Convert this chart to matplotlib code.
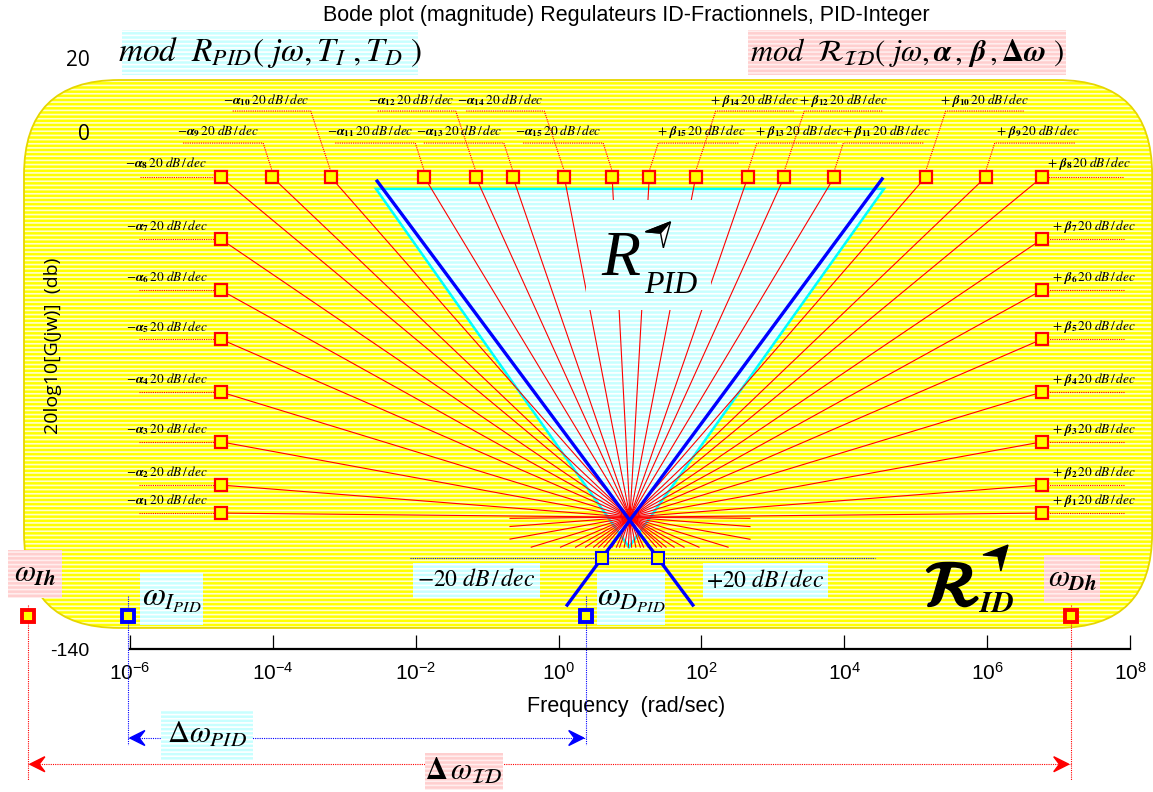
import numpy as np
import matplotlib.pyplot as plt
import matplotlib.patheffects as pe
from matplotlib.patches import FancyBboxPatch, Polygon, Rectangle
from matplotlib.ticker import NullLocator
from matplotlib.transforms import IdentityTransform

plt.rcParams["font.family"] = ["Liberation Sans", "DejaVu Sans"]
plt.rcParams["mathtext.fontset"] = "stix"
plt.rcParams["hatch.linewidth"] = 1.2

RED, BLUE, CYAN, YELLOW = "#ff0000", "#0000ff", "#00ffff", "#ffff00"
CYAN_FILL, PINK_FILL = "#c8ffff", "#ffcfcf"

# ---- values: log10(omega) and magnitude (dB) -------------------------------
cross_lw, cross_mag = 1.0, -104.3
alpha_top_lw = [-4.73, -4.01, -3.19, -1.88, -1.16, -0.64, 0.08, 0.75]   # alpha_8 .. alpha_15
beta_top_lw = [6.77, 5.98, 5.14, 3.86, 3.16, 2.65, 1.92, 1.27]          # beta_8 .. beta_15
top_mag = -12.2
side_mag = [-103.2, -95.6, -83.9, -70.4, -56.1, -42.8, -29.0]          # index 1 .. 7
alpha_side_lw, beta_side_lw = -4.73, 6.77

pid_region_lw = [-2.556, 4.556, 0.986]
pid_region_mag = [-15.4, -15.4, -112.4]
pid_fall_lw, pid_fall_mag = [-2.54, 1.88], [-13.3, -128.1]
pid_rise_lw, pid_rise_mag = [4.53, 0.12], [-12.7, -128.1]
corner_mag = -115.4
corner_guide_lw = [-2.08, 4.43]

band_mag = -131.1
w_I_pid, w_D_pid = -6.03, 0.38
w_Ih, w_Dh = -7.43, 7.17
span_pid_mag, span_id_mag = -164.1, -171.2

xticks = [1e-6, 1e-4, 1e-2, 1e0, 1e2, 1e4, 1e6, 1e8]
yticks, ytick_labels = [20, 0, -140], ["20", "0", "-140"]

# ---- figure ------------------------------------------------------------------
fig = plt.figure(figsize=(11.53, 7.92), dpi=100)
ax = fig.add_axes([130 / 1153, 143 / 792, 1000 / 1153, 649 / 792])
ax.set_xscale("log")
ax.set_xlim(1e-6, 1e8)
ax.set_ylim(-140, 35.74)
ax.patch.set_alpha(0)
for s in ["left", "top", "right"]:
    ax.spines[s].set_visible(False)
ax.spines["bottom"].set_linewidth(1.6)
ax.set_xticks(xticks)
ax.xaxis.set_minor_locator(NullLocator())
ax.tick_params(axis="x", direction="in", length=10, width=0.9, labelsize=15, pad=9)
ax.set_yticks(yticks, labels=ytick_labels)
ax.tick_params(axis="y", length=0, pad=29, labelsize=14)
for t in ax.get_yticklabels()[:2]:
    t.set_fontfamily("Open Sans")
    t.set_fontsize(15)
ax.set_xlabel("Frequency  (rad/sec)", fontsize=15.5, va="center")
ax.xaxis.set_label_coords(0.496, -0.088)
ax.set_ylabel("20log10[G(jw)]  (db)", fontsize=14, family="Open Sans", va="center")
ax.yaxis.set_label_coords(-0.077, 0.467)
fig.suptitle("Bode plot (magnitude) Regulateurs ID-Fractionnels, PID-Integer",
             x=626 / 1153, y=1 - 15 / 792, va="center", fontsize=15.5)

ID = IdentityTransform()


def disp(lw, mag):
    return ax.transData.transform((10.0 ** lw, mag))


def back(px):
    return ax.transData.inverted().transform(px)


def card(lw, mag, w, h, face, stripe):
    cx, cy = disp(lw, mag)
    ax.add_patch(Rectangle((cx - w / 2, cy - h / 2), w, h, transform=ID, fc=face,
                           ec=stripe, lw=0, hatch="----", clip_on=False, zorder=3))


def arrowhead(px, angle, size, face, edge=None, half=False):
    shape = np.array([[0, 0], [-1, 0.5], [-0.62, 0], [-1, -0.5]]) * size
    a = np.deg2rad(angle)
    rot = np.array([[np.cos(a), -np.sin(a)], [np.sin(a), np.cos(a)]])
    pts = np.asarray(px) + shape @ rot.T
    ax.add_patch(Polygon(pts, transform=ID, fc=face, ec=edge or face, lw=1.0,
                         clip_on=False, zorder=4))
    if half:
        ax.add_patch(Polygon(pts[[0, 1, 2]], transform=ID, fc="black", ec="black",
                             lw=1.0, clip_on=False, zorder=4.1))


# yellow panel
x0, y0 = disp(-7.484, -134.3)
x1, y1 = disp(8.31, 14.08)
for kw in (dict(fc=YELLOW, ec="#ffffcc", lw=0, hatch="----"),
           dict(fill=False, ec="#e6d600", lw=1.3)):
    ax.add_patch(FancyBboxPatch((x0, y0), x1 - x0, y1 - y0,
                                boxstyle="round,pad=0,rounding_size=95",
                                transform=ID, clip_on=False, zorder=0.5, **kw))

# PID region (cyan triangle)
tri = list(zip(10.0 ** np.array(pid_region_lw), pid_region_mag))
ax.add_patch(Polygon(tri, fc=CYAN_FILL, ec="white", lw=0, hatch="----", zorder=1))
ax.add_patch(Polygon(tri, fill=False, ec=CYAN, lw=1.8, zorder=1.2))

# red fan through the crossing point
alpha_pts = [(alpha_side_lw, m) for m in side_mag] + [(v, top_mag) for v in alpha_top_lw]
beta_pts = [(beta_side_lw, m) for m in side_mag] + [(v, top_mag) for v in beta_top_lw]
cx, cy = disp(cross_lw, cross_mag)
for lw, m in alpha_pts + beta_pts:
    sx, sy = disp(lw, m)
    dx, dy = cx - sx, cy - sy
    t = min(30 / abs(dy) if dy else np.inf, 120 / abs(dx) if dx else np.inf)
    ew, em = back((cx + t * dx, cy + t * dy))
    ax.plot([10.0 ** lw, ew], [m, em], color=RED, lw=0.8, zorder=2)

# labels of the fan squares: (text dy, line dy, line outer, line inner, text dx alpha, text dx beta)
ROWS = {0: (12.5, 0, 82, 5, 54, 52), 1: (77, 66, 98, 20, 64, 59),
        2: (46, 34, 89, 9, 54, 52), 3: (14, 0, 81, 5, 55, 47)}


def tag(lw, m, k, sign, row):
    text_dy, line_dy, outer, inner, dxa, dxb = ROWS[row]
    sx, sy = disp(lw, m)
    pts = [(sx + sign * outer, sy + line_dy), (sx + sign * inner, sy + line_dy)]
    if line_dy > 6:
        pts.append((sx, sy + 6))
    dp = np.array([back(p) for p in pts])
    ax.plot(dp[:, 0], dp[:, 1], color=RED, lw=0.8, ls=(0, (1, 1)), zorder=2, clip_on=False)
    if sign < 0:
        s = rf"$-\boldsymbol{{\alpha}}_{{\mathbf{{{k}}}}}\,\mathit{{20\ dB\,/\,dec}}$"
        text_dx = -dxa
    else:
        s = rf"$+\ \boldsymbol{{\beta}}_{{\mathbf{{{k}}}}}\,\mathit{{20\ dB\,/\,dec}}$"
        text_dx = dxb
    ax.annotate(s, (10.0 ** lw, m), xytext=(text_dx, text_dy),
                textcoords="offset pixels", ha="center", va="center", fontsize=9.5, zorder=3)


for i, (lw, m) in enumerate(alpha_pts):
    k = i + 1
    row = 0 if k < 8 else (3 if k == 8 else (1 if k % 2 == 0 else 2))
    tag(lw, m, k, -1, row)
for i, (lw, m) in enumerate(beta_pts):
    k = i + 1
    row = 0 if k < 8 else (3 if k == 8 else (1 if k % 2 == 0 else 2))
    tag(lw, m, k, 1, row)

# PID asymptotes
ax.plot(10.0 ** np.array(pid_fall_lw), pid_fall_mag, color=BLUE, lw=2.4, zorder=2.6)
ax.plot(10.0 ** np.array(pid_rise_lw), pid_rise_mag, color=BLUE, lw=2.4, zorder=2.6)
ax.plot(10.0 ** np.array(corner_guide_lw), [corner_mag] * 2, color=BLUE, lw=0.8,
        ls=(0, (1, 1)), zorder=2.2)
c_rise = np.interp(corner_mag, pid_rise_mag[::-1], pid_rise_lw[::-1])
c_fall = np.interp(corner_mag, pid_fall_mag[::-1], pid_fall_lw[::-1])
ax.plot(10.0 ** np.array([c_rise, c_fall]), [corner_mag] * 2, "s", ms=8, mfc=YELLOW,
        mec=BLUE, mew=1.5, zorder=4)

# squares
pts = np.array(alpha_pts + beta_pts)
ax.plot(10.0 ** pts[:, 0], pts[:, 1], "s", ms=8, mfc=YELLOW, mec=RED, mew=1.6, zorder=4)

# bandwidth markers and spans
for w, col, top, bottom in [(w_I_pid, BLUE, -125.6, -166.0), (w_D_pid, BLUE, -125.6, -166.0),
                            (w_Ih, RED, -128.1, -175.5), (w_Dh, RED, -128.1, -175.5)]:
    ax.plot([10.0 ** w] * 2, [top, bottom], color=col, lw=0.8, ls=(0, (1, 1)),
            clip_on=False, zorder=2)
    ax.plot(10.0 ** w, band_mag, "s", ms=9, mfc=YELLOW, mec=col, mew=2.8,
            clip_on=False, zorder=4)

for wa, wb, m, col in [(w_I_pid, w_D_pid, span_pid_mag, BLUE), (w_Ih, w_Dh, span_id_mag, RED)]:
    ax.plot([10.0 ** wa, 10.0 ** wb], [m, m], color=col, lw=0.8, ls=(0, (1, 1)),
            clip_on=False, zorder=2)
    pa, pb = disp(wa, m), disp(wb, m)
    arrowhead(pa + [2, 0], 180, 15, col)
    arrowhead(pb - [2, 0], 0, 15, col)

# equation cards
card(-4.04, 21.53, 296, 45, CYAN_FILL, "white")
ax.text(10 ** -4.04, 21.53, r"$mod\ \ R_{PID}\left(\ j\omega,T_{I}\ ,T_{D}\ \right)$",
        ha="center", va="center", fontsize=24, zorder=3.5)
card(4.878, 21.53, 318, 45, PINK_FILL, "#ffeeee")
ax.text(10 ** 4.878, 21.53,
        r"$mod\ \ \mathcal{R}_{\mathcal{ID}}\left(\ j\omega,\boldsymbol{\alpha}\,,\,"
        r"\boldsymbol{\beta}\,,\boldsymbol{\Delta\omega}\ \right)$",
        ha="center", va="center", fontsize=22, zorder=3.5)

cards = [
    (-7.33, -119.7, 54, 48, PINK_FILL, "#ffeeee", r"$\omega_{\boldsymbol{Ih}}$", 22),
    (-5.419, -126.5, 63, 52, CYAN_FILL, "white", r"$\omega_{I_{PID}}$", 24),
    (-1.149, -121.4, 127, 35, CYAN_FILL, "white", r"$-\mathit{20\ dB\,/\,dec}$", 17),
    (1.014, -126.5, 68, 52, CYAN_FILL, "white", r"$\omega_{D_{PID}}$", 24),
    (2.897, -121.4, 125, 35, CYAN_FILL, "white", r"$+\mathit{20\ dB\,/\,dec}$", 17),
    (7.188, -121.0, 56, 48, PINK_FILL, "#ffeeee", r"$\omega_{\boldsymbol{Dh}}$", 22),
    (-4.922, -163.3, 92, 50, CYAN_FILL, "white", r"$\mathit{\Delta}\omega_{PID}$", 22),
    (-1.324, -173.2, 78, 37, PINK_FILL, "#ffeeee", r"$\boldsymbol{\Delta}\,\omega_{\mathcal{ID}}$", 22),
]
for lw, m, w, h, face, stripe, s, fs in cards:
    card(lw, m, w, h, face, stripe)
    ax.text(10 ** lw, m, s, ha="center", va="center", fontsize=fs, zorder=3.5, clip_on=False)

# R_PID inside the triangle
card(1.259, -33.3, 125, 110, CYAN_FILL, "white")
ax.annotate("R", (10 ** 1.259, -33.3), xytext=(-47, -20), textcoords="offset pixels",
            family="Liberation Serif", style="italic", fontsize=46, va="baseline", zorder=3.5)
ax.annotate("PID", (10 ** 1.259, -33.3), xytext=(-4, -38), textcoords="offset pixels",
            family="Liberation Serif", style="italic", fontsize=23, va="baseline", zorder=3.5)
arrowhead(disp(1.259, -33.3) + [22, 33], 48, 24, "white", edge="black", half=True)

# R_ID
bold = [pe.withStroke(linewidth=2.2, foreground="black")]
ax.annotate(r"$\mathcal{R}$", (10 ** 5.69, -122.7), xytext=(-40, -21), textcoords="offset pixels",
            fontsize=46, va="baseline", zorder=3.5, path_effects=bold)
ax.annotate(r"$\boldsymbol{ID}$", (10 ** 5.69, -122.7), xytext=(14, -27), textcoords="offset pixels",
            fontsize=22, va="baseline", zorder=3.5)
arrowhead(disp(5.69, -122.7) + [43, 40], 48, 24, "black")

fig.savefig("out.png", dpi=100)
